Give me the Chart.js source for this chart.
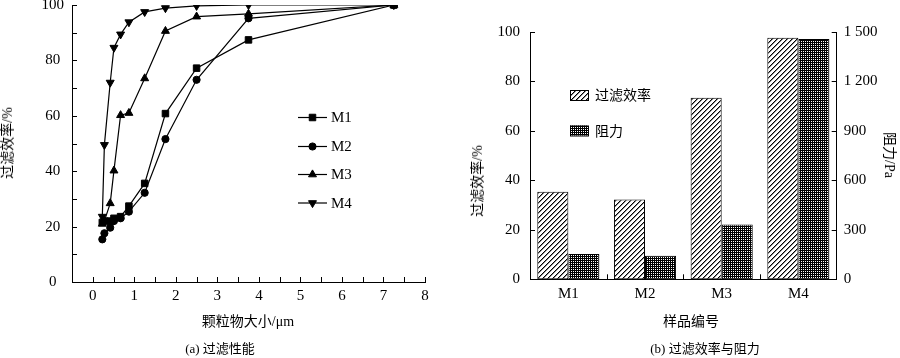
<!DOCTYPE html>
<html><head><meta charset="utf-8">
<script src="https://cdn.jsdelivr.net/npm/chart.js@4.4.1/dist/chart.umd.min.js"></script>
<style>
html,body{margin:0;padding:0;background:#fff;width:900px;height:358px;overflow:hidden;position:relative}
canvas{position:absolute}
.t{position:absolute;white-space:nowrap;font-family:'Liberation Serif','Noto Sans CJK SC',serif;font-size:14px;color:#000;line-height:1;transform:translate(-50%,-50%)}
.cap{font-size:13px}
.r{transform:translate(-50%,-50%) rotate(-90deg)}
.rr{transform:translate(-50%,-50%) rotate(90deg)}
</style></head>
<body>
<canvas id="c1" width="450" height="378" style="left:0;top:-20px"></canvas>
<canvas id="c2" width="450" height="358" style="left:450px;top:0"></canvas>
<div class="t r" style="left:8px;top:143px">过滤效率/%</div>
<div class="t" style="left:248px;top:322px">颗粒物大小/μm</div>
<div class="t cap" style="left:220px;top:348px">(a) 过滤性能</div>
<div class="t r" style="left:478px;top:181px">过滤效率/%</div>
<div class="t rr" style="left:889px;top:155px">阻力/Pa</div>
<div class="t" style="left:691px;top:322px">样品编号</div>
<div class="t cap" style="left:705px;top:348px">(b) 过滤效率与阻力</div>
<script>
// ---- data (a) ----
const sizes = [0.23, 0.28, 0.42, 0.51, 0.67, 0.87, 1.25, 1.75, 2.5, 3.75, 7.25];
const effM1 = [21.5, 22, 22, 23, 23.6, 27.4, 35.6, 60.8, 77.2, 87.4, 100];
const effM2 = [15.4, 17.6, 19.6, 22, 23, 25.4, 32.2, 51.6, 73, 95.2, 100];
const effM3 = [21, 22, 28.4, 40.2, 60.2, 61, 73.5, 90.6, 95.8, 96.8, 100];
const effM4 = [23.6, 49.5, 72, 84.6, 89.4, 93.8, 97.5, 98.9, 99.7, 100, 100];
const seriesNames = ['M1', 'M2', 'M3', 'M4'];
const xTickLabels = [0, 1, 2, 3, 4, 5, 6, 7, 8];
const yTickLabels = [0, 20, 40, 60, 80, 100];
// ---- data (b) ----
const samples = ['M1', 'M2', 'M3', 'M4'];
const barEff = [35.4, 32.3, 73.4, 97.7];
const barRes = [153, 143, 333, 1457];
const resTicks = [0, 300, 600, 900, 1200, 1500];

const tickFont = {family: "'Liberation Serif', serif", size: 15};

function makePattern(kind) {
  const c = document.createElement('canvas');
  const n = kind === 'hatch' ? 5 : 4;
  c.width = n; c.height = n;
  const g = c.getContext('2d');
  g.fillStyle = '#fff'; g.fillRect(0, 0, n, n);
  for (let x = 0; x < n; x++) for (let y = 0; y < n; y++) {
    if (kind === 'hatch') {
      const m = (x + y) % n;
      if (m === 0) { g.fillStyle = '#000'; g.fillRect(x, y, 1, 1); }
      else if (m === 1) { g.fillStyle = '#888'; g.fillRect(x, y, 1, 1); }
    } else {
      const white = (x % 2 === 1 && y % 2 === 1);
      g.fillStyle = white ? '#fff' : '#000';
      g.fillRect(x, y, 1, 1);
    }
  }
  return c;
}

function drawMarker(ctx, style, x, y, r, rot) {
  ctx.beginPath();
  if (style === 'rect') {
    const s = r * Math.SQRT1_2;
    ctx.rect(x - s, y - s, 2 * s, 2 * s);
  } else if (style === 'circle') {
    ctx.arc(x, y, r, 0, Math.PI * 2);
  } else {
    const dir = rot === 180 ? -1 : 1;
    ctx.moveTo(x, y - dir * r);
    ctx.lineTo(x - r * Math.sqrt(3) / 2, y + dir * r / 2);
    ctx.lineTo(x + r * Math.sqrt(3) / 2, y + dir * r / 2);
    ctx.closePath();
  }
  ctx.fill(); ctx.stroke();
}

// inward tick marks drawn from the library's scales
const inTicks = {
  id: 'inTicks',
  afterDraw(chart, args, opts) {
    const ctx = chart.ctx, a = chart.chartArea, L = opts.len || 5;
    ctx.save(); ctx.strokeStyle = '#000'; ctx.lineWidth = 1;
    ctx.beginPath();
    Object.values(chart.scales).forEach(s => {
      if (s.axis === 'x') {
        let px = [];
        if (s.type === 'category') {
          for (let i = 0; i < s.ticks.length - 1; i++) px.push((s.getPixelForValue(i) + s.getPixelForValue(i + 1)) / 2);
        } else {
          px = s.ticks.map(t => s.getPixelForValue(t.value));
        }
        px.forEach(p => { const xx = Math.round(p) + 0.5; ctx.moveTo(xx, a.bottom); ctx.lineTo(xx, a.bottom - L); });
      } else {
        s.ticks.forEach(t => {
          const yy = Math.round(s.getPixelForValue(t.value)) + 0.5;
          if (s.position === 'left') { ctx.moveTo(a.left, yy); ctx.lineTo(a.left + L, yy); }
          else { ctx.moveTo(a.right, yy); ctx.lineTo(a.right - L, yy); }
        });
      }
    });
    ctx.stroke(); ctx.restore();
  }
};

// ---------- chart (a) ----------
const styles = [
  {pointStyle: 'rect', r: 4.6, rot: 0},
  {pointStyle: 'circle', r: 3.6, rot: 0},
  {pointStyle: 'triangle', r: 4.6, rot: 0},
  {pointStyle: 'triangle', r: 4.6, rot: 180}
];
const effs = [effM1, effM2, effM3, effM4];

const legendA = {
  id: 'legendA',
  afterDraw(chart) {
    const ctx = chart.ctx;
    const rows = [117.5, 146.5, 174.5, 203]; // page y
    ctx.save();
    chart.data.datasets.forEach((ds, i) => {
      const y = rows[i] + 20;
      ctx.strokeStyle = '#000'; ctx.fillStyle = '#000'; ctx.lineWidth = 1.2;
      ctx.beginPath(); ctx.moveTo(298, y); ctx.lineTo(327, y); ctx.stroke();
      ctx.lineWidth = 1;
      drawMarker(ctx, styles[i].pointStyle, 312.5, y, styles[i].r, styles[i].rot);
      ctx.font = "15px 'Liberation Serif', serif";
      ctx.textBaseline = 'middle'; ctx.textAlign = 'left';
      ctx.fillText(ds.label, 331, y + 1);
    });
    ctx.restore();
  }
};

new Chart(document.getElementById('c1'), {
  type: 'line',
  data: {
    datasets: seriesNames.map((name, i) => ({
      label: name,
      data: sizes.map((x, j) => ({x: x, y: effs[i][j]})),
      borderColor: '#000', backgroundColor: '#000', borderWidth: 1.2,
      pointStyle: styles[i].pointStyle, pointRotation: styles[i].rot,
      pointRadius: styles[i].r, pointBackgroundColor: '#000', pointBorderColor: '#000',
      pointBorderWidth: 1, tension: 0, fill: false
    }))
  },
  options: {
    responsive: false, animation: false, devicePixelRatio: 1,
    layout: {padding: {top: 25, right: 25, left: 0, bottom: 0}},
    plugins: {legend: {display: false}, tooltip: {enabled: false}, inTicks: {len: 5}},
    scales: {
      x: {
        type: 'linear', min: -0.5, max: 8,
        ticks: {stepSize: 0.5, autoSkip: false, maxRotation: 0, color: '#000', font: tickFont, padding: 5,
          callback: v => xTickLabels.includes(v) ? String(v) : ''},
        grid: {display: false, drawTicks: false},
        border: {display: true, color: '#000', width: 1},
        afterFit: s => { s.height = 76; }
      },
      y: {
        min: 0, max: 100,
        ticks: {stepSize: 10, color: '#000', font: tickFont, padding: 8, crossAlign: 'center',
          callback: v => yTickLabels.includes(v) ? String(v) : ''},
        grid: {display: false, drawTicks: false},
        border: {display: true, color: '#000', width: 1},
        afterFit: s => { s.width = 72; }
      }
    }
  },
  plugins: [inTicks, legendA]
});

// ---------- chart (b) ----------
const hatch = document.getElementById('c2').getContext('2d').createPattern(makePattern('hatch'), 'repeat');
const cross = document.getElementById('c2').getContext('2d').createPattern(makePattern('cross'), 'repeat');

const legendB = {
  id: 'legendB',
  afterDraw(chart) {
    const ctx = chart.ctx;
    const items = [{fill: hatch, y: 95, text: '过滤效率'}, {fill: cross, y: 130.5, text: '阻力'}];
    ctx.save();
    items.forEach(it => {
      ctx.fillStyle = it.fill; ctx.fillRect(120, it.y - 5, 18, 10);
      ctx.strokeStyle = '#000'; ctx.lineWidth = 1; ctx.strokeRect(120.5, it.y - 4.5, 18, 10);
      ctx.fillStyle = '#000';
      ctx.font = "14px 'Noto Sans CJK SC', sans-serif";
      ctx.textBaseline = 'middle'; ctx.textAlign = 'left';
      ctx.fillText(it.text, 145, it.y);
    });
    ctx.restore();
  }
};

function fmtRes(v) {
  return v >= 1000 ? Math.floor(v / 1000) + ' ' + String(v % 1000).padStart(3, '0') : String(v);
}

new Chart(document.getElementById('c2'), {
  type: 'bar',
  data: {
    labels: samples,
    datasets: [
      {label: '过滤效率', data: barEff, yAxisID: 'yL', backgroundColor: hatch, borderColor: '#000', borderWidth: 1, borderSkipped: false,
        categoryPercentage: 0.81, barPercentage: 1.0},
      {label: '阻力', data: barRes, yAxisID: 'yR', backgroundColor: cross, borderColor: '#000', borderWidth: 1, borderSkipped: false,
        categoryPercentage: 0.81, barPercentage: 1.0}
    ]
  },
  options: {
    responsive: false, animation: false, devicePixelRatio: 1,
    layout: {padding: {top: 32, right: 0, left: 0, bottom: 0}},
    plugins: {legend: {display: false}, tooltip: {enabled: false}, inTicks: {len: 5}},
    scales: {
      x: {
        ticks: {color: '#000', font: tickFont, padding: 6, maxRotation: 0},
        grid: {display: false, drawTicks: false},
        border: {display: true, color: '#000', width: 1},
        afterFit: s => { s.height = 78.7; }
      },
      yL: {
        position: 'left', min: 0, max: 100,
        ticks: {stepSize: 20, color: '#000', font: tickFont, padding: 10},
        grid: {display: false, drawTicks: false},
        border: {display: true, color: '#000', width: 1},
        afterFit: s => { s.width = 80; }
      },
      yR: {
        position: 'right', min: 0, max: 1500,
        ticks: {stepSize: 300, color: '#000', font: tickFont, padding: 7,
          callback: v => resTicks.includes(v) ? fmtRes(v) : ''},
        grid: {display: false, drawTicks: false},
        border: {display: true, color: '#000', width: 1},
        afterFit: s => { s.width = 63.3; }
      }
    }
  },
  plugins: [inTicks, legendB]
});
</script>
</body></html>
